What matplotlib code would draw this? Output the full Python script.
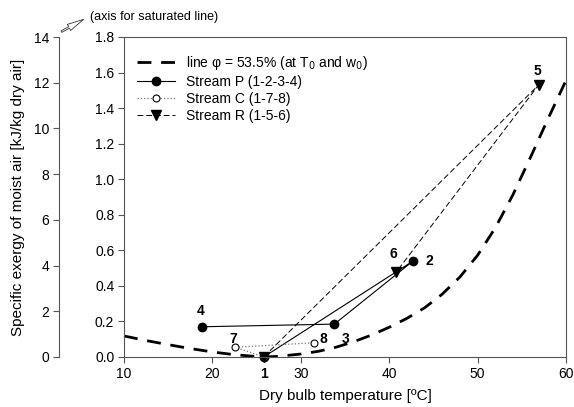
import matplotlib
matplotlib.use("Agg")
import matplotlib.pyplot as plt
from matplotlib.patches import FancyArrowPatch

plt.rcParams['font.family'] = ['Liberation Sans', 'DejaVu Sans']

# Saturated line (phi = 53.5%) on outer axis (0-14)
sat_T = [10, 12.5, 15, 17.5, 20, 22.5, 25, 25.8, 27.5, 30, 32, 34, 36, 38, 40, 42, 44, 46, 48, 50, 52, 54, 56, 58, 60]
sat_ex = [0.92, 0.72, 0.54, 0.37, 0.22, 0.10, 0.02, 0.0, 0.03, 0.13, 0.25, 0.43, 0.67, 0.96, 1.3, 1.69, 2.15, 2.75, 3.5, 4.45, 5.65, 7.1, 8.75, 10.45, 12.1]

# Streams (inner axis 0-1.8)
P_T = [25.8, 42.7, 33.8, 18.8]
P_ex = [0.0, 0.54, 0.185, 0.17]
C_T = [25.8, 22.6, 31.5]
C_ex = [0.0, 0.055, 0.08]
R_T = [25.8, 56.9, 40.8]
R_ex = [0.0, 1.53, 0.478]

point_labels = ['1', '2', '3', '4', '5', '6', '7', '8']
point_T = [25.8, 42.7, 33.8, 18.8, 56.9, 40.8, 22.6, 31.5]
point_ex = [0.0, 0.54, 0.185, 0.17, 1.53, 0.478, 0.055, 0.08]
label_offsets = [(0, -12), (11.5, 0), (8, -11), (-1, 11.5), (-1, 10), (-2, 13), (-1.5, 6), (6.5, 3)]

xticks = [10, 20, 30, 40, 50, 60]
yticks_inner = [0.0, 0.2, 0.4, 0.6, 0.8, 1.0, 1.2, 1.4, 1.6, 1.8]
yticks_outer = [0, 2, 4, 6, 8, 10, 12, 14]

W, H = 574, 407
fig = plt.figure(figsize=(W / 100, H / 100), dpi=100)
rect = [124 / W, 1 - 357 / H, (566 - 124) / W, (357 - 37) / H]

spine_col = '#555555'

# outer axis for saturated line
ax2 = fig.add_axes(rect)
ax2.patch.set_visible(False)
ax2.set_xlim(10, 60)
ax2.set_ylim(0, 14)
for s in ['top', 'right', 'bottom']:
    ax2.spines[s].set_visible(False)
ax2.spines['left'].set_position(('axes', (59 - 124) / (566 - 124)))
ax2.spines['left'].set_color(spine_col)
ax2.set_xticks([])
ax2.set_yticks(yticks_outer)
ax2.tick_params(axis='y', direction='out', length=4, color=spine_col, labelsize=10, pad=3)
sat_line, = ax2.plot(sat_T, sat_ex, color='black', lw=2.0, dashes=(5, 3.5),
                     label='line φ = 53.5% (at T$_0$ and w$_0$)', clip_on=False)
ax2.set_ylabel('Specific exergy of moist air [kJ/kg dry air]', fontsize=11, labelpad=6)

# inner axis
ax = fig.add_axes(rect)
ax.patch.set_visible(False)
ax.set_xlim(10, 60)
ax.set_ylim(0, 1.8)
ax.set_xticks(xticks)
ax.set_yticks(yticks_inner)
ax.set_yticklabels([f'{v:.1f}' for v in yticks_inner])
for s in ax.spines.values():
    s.set_color(spine_col)
ax.tick_params(direction='out', length=4, color=spine_col, labelsize=10, pad=3)
ax.set_xlabel('Dry bulb temperature [ºC]', fontsize=11, labelpad=6)

lP, = ax.plot(P_T, P_ex, color='black', lw=0.8, marker='o', ms=6, label='Stream P (1-2-3-4)', clip_on=False)
lC, = ax.plot(C_T, C_ex, color='#777777', lw=0.9, ls=':', marker='o', ms=5, mfc='white', mec='black', mew=0.8,
              label='Stream C (1-7-8)', clip_on=False)
lR, = ax.plot(R_T, R_ex, color='black', lw=0.7, dashes=(6, 3), marker='v', ms=7, label='Stream R (1-5-6)', clip_on=False)

for lab, t, e, off in zip(point_labels, point_T, point_ex, label_offsets):
    ax.annotate(lab, (t, e), xytext=off, textcoords='offset points', fontsize=10, fontweight='bold',
                ha='center', va='center', annotation_clip=False)

leg = ax.legend(handles=[sat_line, lP, lC, lR], loc='upper left', bbox_to_anchor=(0.0, 0.985),
                frameon=False, fontsize=10, handlelength=2.8, handletextpad=0.8, labelspacing=0.2)

# annotation for outer axis
fig.text(90 / W, 1 - 17 / H, '(axis for saturated line)', fontsize=9, va='center', ha='left')
arr = FancyArrowPatch((59 / W, 1 - 33 / H), (86 / W, 1 - 18 / H), transform=fig.transFigure,
                      arrowstyle='simple,head_width=0.5,head_length=1.2,tail_width=0.12',
                      fc='white', ec='#333333', lw=0.6, mutation_scale=10)
fig.patches.append(arr)

fig.savefig('out.png', dpi=100)
